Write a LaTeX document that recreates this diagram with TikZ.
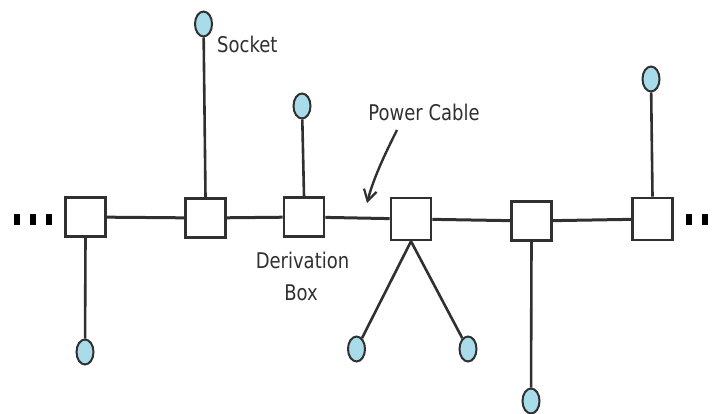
\documentclass[tikz,border=0pt]{standalone}
\usepackage{fontspec}
\setmainfont{DejaVu Sans}
\usetikzlibrary{arrows.meta,shapes.geometric}
\definecolor{cablec}{HTML}{303030}
\definecolor{sockfill}{HTML}{A8DCEA}
\definecolor{textc}{HTML}{303030}
\tikzset{
  dbox/.style={draw=cablec, line width=2.6pt, fill=white, minimum width=40pt, minimum height=39pt, inner sep=0pt},
  sock/.style={ellipse, draw=cablec, line width=2pt, fill=sockfill, minimum width=17pt, minimum height=25pt, inner sep=0pt},
  cable/.style={draw=cablec, line width=3pt},
  wire/.style={draw=cablec, line width=2.6pt},
  dotm/.style={fill=black, minimum width=6pt, minimum height=11pt, inner sep=0pt},
  lbl/.style={text=textc, font=\fontsize{18}{21}\selectfont, inner sep=0pt, anchor=base},
}
\newcommand{\tallt}[1]{\scalebox{1}[1.2]{#1}}
\begin{document}
\begin{tikzpicture}[x=1pt,y=-1pt]
\useasboundingbox (0,0) rectangle (714,414);
\begin{scope}
\clip (0,0) rectangle (714,414);
% boxes
\node[dbox] (b1) at (85.5,217) {};
\node[dbox] (b2) at (205.5,218) {};
\node[dbox] (b3) at (304,217) {};
\node[dbox, minimum height=42pt] (b4) at (411,219) {};
\node[dbox] (b5) at (531.5,221) {};
\node[dbox, minimum height=42pt] (b6) at (652.5,219) {};
% dots
\node[dotm] (d1) at (16.5,219) {};
\node[dotm] (d2) at (32.5,219) {};
\node[dotm] (d3) at (48.5,219) {};
\node[dotm] (d4) at (688.5,219) {};
\node[dotm] (d5) at (704.5,219) {};
\node[dotm] (d6) at (720.5,219) {};
% sockets
\node[sock] (s1) at (85,352) {};
\node[sock] (s2) at (203.5,24) {};
\node[sock] (s3) at (302,106) {};
\node[sock] (s4) at (356.5,349) {};
\node[sock] (s5) at (468,349) {};
\node[sock] (s6) at (531,401) {};
\node[sock] (s7) at (651,79) {};
% cable
\draw[cable] (b1) -- (b2);
\draw[cable] (b2) -- (b3);
\draw[cable] (b3) -- (b4);
\draw[cable] (b4) -- (b5);
\draw[cable] (b5) -- (b6);
% wires
\draw[wire] (b1.south) -- (s1);
\draw[wire] (b2.north) -- (s2);
\draw[wire] (b3.north) -- (s3);
\draw[wire] (b4.south) -- (s4);
\draw[wire] (b4.south) -- (s5);
\draw[wire] (b5.south) -- (s6);
\draw[wire] (b6.north) -- (s7);
% re-draw nodes on top
\node[dbox] at (b1) {};
\node[dbox] at (b2) {};
\node[dbox] at (b3) {};
\node[dbox, minimum height=42pt] at (b4) {};
\node[dbox] at (b5) {};
\node[dbox, minimum height=42pt] at (b6) {};
\end{scope}
% labels
\node[lbl, anchor=base west] (lsock) at (217,53) {\tallt{Socket}};
\node[lbl] (lpc) at (424,121) {\tallt{Power Cable}};
\node[lbl] (lder) at (302.5,268) {\tallt{Derivation}};
\node[lbl] (lbox) at (301,300) {\tallt{Box}};
\coordinate (atip) at (367,203);
\draw[cablec, line width=2.4pt, -{Straight Barb[length=11pt,width=13pt,line width=2.2pt]}] (397,130) .. controls (388,148) and (374,176) .. (atip);
\end{tikzpicture}
\end{document}
